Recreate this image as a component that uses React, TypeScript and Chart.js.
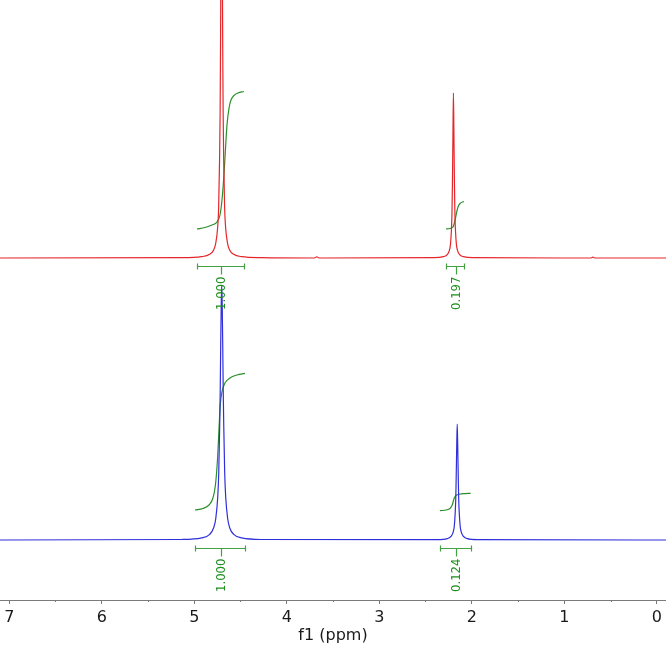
import React, { useEffect, useRef } from "react";
import { Chart, registerables } from "chart.js";

Chart.register(...registerables);

// ---------- data ----------
// x axis (ppm, reversed)
const X_MIN = -0.1;
const X_MAX = 7.1;
const MAJOR_TICKS = [0, 1, 2, 3, 4, 5, 6, 7];
const MINOR_TICKS = [0.5, 1.5, 2.5, 3.5, 4.5, 5.5, 6.5];

// Top (red) spectrum: [ppm, intensity above its baseline]
const RED_SPECTRUM: [number, number][] = [
  [7.1, 0], [5.136, 0.33], [4.92, 1.32], [4.834, 3.64], [4.79, 8.1], [4.769, 14.2],
  [4.747, 30.5], [4.736, 51.2], [4.726, 99.5], [4.72, 148], [4.715, 228], [4.709, 336],
  [4.704, 400], [4.699, 336], [4.693, 228], [4.688, 148], [4.682, 99.5], [4.672, 51.2],
  [4.661, 30.5], [4.639, 14.2], [4.618, 8.1], [4.574, 3.64], [4.488, 1.32], [4.272, 0.33],
  [3.70, 0], [3.675, 1.2], [3.65, 0],
  [2.414, 0.33], [2.306, 1.33], [2.263, 3.6], [2.241, 7.95], [2.23, 13.6], [2.22, 27.8],
  [2.214, 43.7], [2.209, 73.8], [2.203, 126], [2.198, 165], [2.193, 126], [2.187, 73.8],
  [2.182, 43.7], [2.176, 27.8], [2.166, 13.6], [2.155, 7.95], [2.133, 3.6], [2.09, 1.33],
  [1.982, 0.33],
  [0.71, 0], [0.69, 0.8], [0.67, 0],
  [-0.1, 0],
];

// Bottom (blue) spectrum
const BLUE_SPECTRUM: [number, number][] = [
  [7.1, 0], [5.135, 0.52], [4.919, 2.05], [4.833, 5.6], [4.79, 12.3], [4.768, 21],
  [4.746, 43], [4.735, 67.5], [4.725, 114], [4.719, 150.5], [4.714, 195], [4.708, 237],
  [4.703, 255], [4.698, 237], [4.692, 195], [4.687, 150.5], [4.681, 114], [4.671, 67.5],
  [4.66, 43], [4.638, 21], [4.617, 12.3], [4.573, 5.6], [4.487, 2.05], [4.271, 0.52],
  [2.373, 0.35], [2.265, 1.39], [2.222, 3.8], [2.2, 8.2], [2.189, 13.7], [2.179, 27],
  [2.173, 40.6], [2.168, 63.5], [2.162, 96], [2.157, 116], [2.152, 96], [2.146, 63.5],
  [2.141, 40.6], [2.135, 27], [2.125, 13.7], [2.114, 8.2], [2.092, 3.8], [2.049, 1.39],
  [1.941, 0.35],
  [-0.1, 0],
];

// Integral curves (cumulative traces drawn above each baseline)
const RED_INTEGRAL_1: [number, number][] = [
  [4.971, 29], [4.884, 30.5], [4.808, 33], [4.754, 36], [4.722, 43], [4.7, 58],
  [4.679, 83], [4.663, 108], [4.646, 133], [4.624, 150], [4.603, 158], [4.57, 162.5],
  [4.528, 165], [4.463, 166.5],
];
const RED_INTEGRAL_2: [number, number][] = [
  [2.279, 29], [2.236, 29.5], [2.203, 31], [2.182, 37], [2.165, 45], [2.149, 51],
  [2.127, 54.5], [2.084, 56.5],
];
const BLUE_INTEGRAL_1: [number, number][] = [
  [4.992, 30], [4.906, 31.5], [4.841, 35], [4.798, 42], [4.771, 55], [4.749, 80],
  [4.733, 110], [4.719, 135], [4.701, 148], [4.668, 157], [4.614, 162], [4.538, 165],
  [4.452, 166.7],
];
const BLUE_INTEGRAL_2: [number, number][] = [
  [2.344, 29.3], [2.243, 31], [2.211, 35], [2.189, 42], [2.163, 45], [2.092, 46.3],
  [2.012, 46.7],
];

// Integral ranges [from ppm, to ppm] and their values
const RED_RANGES: [number, number][] = [[4.971, 4.463], [2.279, 2.084]];
const RED_VALUES = ["1.000", "0.197"];
const BLUE_RANGES: [number, number][] = [[4.992, 4.452], [2.344, 2.012]];
const BLUE_VALUES = ["1.000", "0.124"];

// ---------- layout / style ----------
const Y_MAX = 600;
const RED_OFFSET = 342;
const BLUE_OFFSET = 60;
const RED = "#e5262b";
const BLUE = "#2f2fdc";
const GREEN_CURVE = "#2b8f2b";
const GREEN_BRACKET = "#43a043";
const GREEN_TEXT = "#1f8f1f";
const AXIS_COLOR = "#7a7a7a";
const TEXT_COLOR = "#1a1a1a";
const FONT = "DejaVu Sans";

const toXY = (arr: [number, number][], off: number) => arr.map(([x, y]) => ({ x, y: y + off }));

const lineDs = (label: string, arr: [number, number][], off: number, color: string, w: number) => ({
  label,
  data: toXY(arr, off),
  borderColor: color,
  backgroundColor: color,
  borderWidth: w,
  pointRadius: 0,
  showLine: true,
  fill: false,
  cubicInterpolationMode: "monotone" as const,
});

const overlayPlugin = {
  id: "nmrOverlay",
  afterDraw(chart: any) {
    const { ctx, chartArea } = chart;
    const xs = chart.scales.x;
    const ys = chart.scales.y;
    ctx.save();
    // minor ticks
    ctx.strokeStyle = AXIS_COLOR;
    ctx.lineWidth = 1;
    MINOR_TICKS.forEach((v) => {
      const px = Math.round(xs.getPixelForValue(v)) + 0.5;
      ctx.beginPath();
      ctx.moveTo(px, chartArea.bottom);
      ctx.lineTo(px, chartArea.bottom + 2);
      ctx.stroke();
    });
    // integral brackets
    const groups = [
      { ranges: RED_RANGES, values: RED_VALUES, off: RED_OFFSET },
      { ranges: BLUE_RANGES, values: BLUE_VALUES, off: BLUE_OFFSET },
    ];
    groups.forEach((g) => {
      const by = Math.round(ys.getPixelForValue(g.off)) + 8.5;
      g.ranges.forEach(([a, b], i) => {
        const x1 = Math.round(xs.getPixelForValue(a)) + 0.5;
        const x2 = Math.round(xs.getPixelForValue(b)) + 0.5;
        const xm = Math.round((x1 + x2) / 2) + 0.5;
        ctx.strokeStyle = GREEN_BRACKET;
        ctx.lineWidth = 1.2;
        ctx.beginPath();
        ctx.moveTo(x1, by);
        ctx.lineTo(x2, by);
        ctx.moveTo(x1, by - 3);
        ctx.lineTo(x1, by + 3);
        ctx.moveTo(x2, by - 3);
        ctx.lineTo(x2, by + 3);
        ctx.moveTo(xm, by);
        ctx.lineTo(xm, by + 8);
        ctx.stroke();
        ctx.save();
        ctx.translate(xm, by + 10);
        ctx.rotate(-Math.PI / 2);
        ctx.fillStyle = GREEN_TEXT;
        ctx.font = `13px "DejaVu Sans Condensed", "${FONT}"`;
        ctx.textAlign = "right";
        ctx.textBaseline = "middle";
        ctx.fillText(g.values[i], 0, 0);
        ctx.restore();
      });
    });
    ctx.restore();
  },
};

export default function App() {
  const ref = useRef<HTMLCanvasElement | null>(null);
  useEffect(() => {
    if (!ref.current) return;
    const chart = new Chart(ref.current, {
      type: "scatter",
      data: {
        datasets: [
          lineDs("red", RED_SPECTRUM, RED_OFFSET, RED, 1.2),
          lineDs("blue", BLUE_SPECTRUM, BLUE_OFFSET, BLUE, 1.2),
          lineDs("ri1", RED_INTEGRAL_1, RED_OFFSET, GREEN_CURVE, 1.2),
          lineDs("ri2", RED_INTEGRAL_2, RED_OFFSET, GREEN_CURVE, 1.2),
          lineDs("bi1", BLUE_INTEGRAL_1, BLUE_OFFSET, GREEN_CURVE, 1.2),
          lineDs("bi2", BLUE_INTEGRAL_2, BLUE_OFFSET, GREEN_CURVE, 1.2),
        ] as any,
      },
      options: {
        animation: false,
        responsive: false,
        maintainAspectRatio: false,
        layout: { padding: 0 },
        plugins: { legend: { display: false }, tooltip: { enabled: false } },
        scales: {
          x: {
            type: "linear",
            reverse: true,
            min: X_MIN,
            max: X_MAX,
            afterBuildTicks: (s: any) => {
              s.ticks = MAJOR_TICKS.map((v) => ({ value: v }));
            },
            afterFit: (s: any) => {
              s.height = 45;
            },
            ticks: {
              autoSkip: false,
              maxRotation: 0,
              padding: 4,
              color: TEXT_COLOR,
              font: { family: FONT, size: 16 },
              callback: (v: any) => String(v),
            },
            grid: { drawOnChartArea: false, drawTicks: true, tickLength: 4, color: AXIS_COLOR },
            border: { display: true, color: AXIS_COLOR, width: 1 },
            title: {
              display: true,
              text: "f1 (ppm)",
              color: TEXT_COLOR,
              font: { family: FONT, size: 16 },
              padding: { top: 0, bottom: 0 },
            },
          },
          y: { display: false, min: 0, max: Y_MAX },
        },
      } as any,
      plugins: [overlayPlugin],
    });
    return () => chart.destroy();
  }, []);
  return (
    <div style={{ position: "absolute", left: 0, top: 0, width: 666, height: 645, background: "#fff" }}>
      <canvas ref={ref} width={666} height={645} style={{ display: "block" }} />
    </div>
  );
}
